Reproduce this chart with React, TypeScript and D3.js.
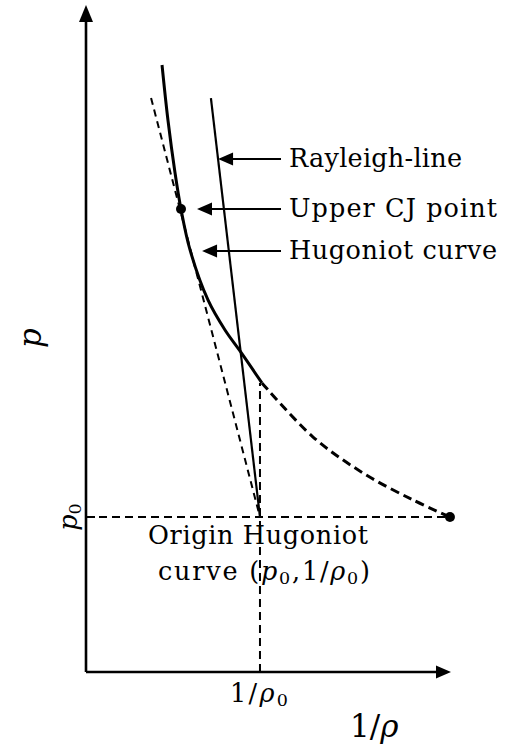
import React from "react";
import * as d3 from "d3";

// Hugoniot curve (specific volume v/v0, pressure p/p0)
const hugoniotV = [0.437, 0.471, 0.511, 0.546, 0.598, 0.701, 0.799, 0.885, 1.011, 1.305, 1.592, 1.879, 2.092];
const hugoniotP = [3.916, 3.561, 3.226, 2.987, 2.723, 2.4, 2.206, 2.071, 1.865, 1.516, 1.284, 1.11, 1.0];
// first points drawn solid, the rest dashed
const hugoniotSolidCount = 9;

// Rayleigh line and the tangent through the CJ point, both ending at (v0, p0)
const rayleighV = [0.718, 1.0];
const rayleighP = [3.703, 1.0];
const tangentV = [0.374, 1.0];
const tangentP = [3.703, 1.0];

const cjPoint = { v: 0.546, p: 2.987 };
const endPoint = { v: 2.092, p: 1.0 };
const origin = { v: 1.0, p: 1.0 };

// annotation arrows: label, arrow tip (v), height (p)
const annotationLabels = ["Rayleigh-line", "Upper CJ point", "Hugoniot curve"];
const annotationTipV = [0.759, 0.638, 0.667];
const annotationP = [3.31, 2.987, 2.716];
const annotationWidths = [173, 208, 208];

const W = 508;
const H = 748;

const x = d3.scaleLinear().domain([0, 2.098]).range([86, 451]);
const y = d3.scaleLinear().domain([0, 4.303]).range([672, 5]);

const pts = (vs: number[], ps: number[]) => vs.map((v, i) => [x(v), y(ps[i])] as [number, number]);

const curve = d3.line().curve(d3.curveCatmullRom.alpha(0.5));
const straight = d3.line();

const serif = "'DejaVu Serif', 'Liberation Serif', serif";
const FS = 25.5;
const SUB = 17.5;

function ArrowHead({ tx, ty, dir }: { tx: number; ty: number; dir: "left" | "right" | "up" }) {
  const L = 15;
  const h = 6.5;
  let d = "";
  if (dir === "left") d = `M${tx},${ty} L${tx + L},${ty - h} L${tx + L},${ty + h} Z`;
  if (dir === "right") d = `M${tx},${ty} L${tx - L},${ty - h} L${tx - L},${ty + h} Z`;
  if (dir === "up") d = `M${tx},${ty} L${tx - 7},${ty + 17} L${tx + 7},${ty + 17} Z`;
  return <path d={d} fill="#000" />;
}

export default function App() {
  const hug = pts(hugoniotV, hugoniotP);
  const hugSolid = hug.slice(0, hugoniotSolidCount);
  const hugDashed = hug.slice(hugoniotSolidCount - 1);

  const x0 = x(0);
  const y0 = y(0);
  const xEnd = x(2.098);
  const yTop = y(4.303);

  return (
    <svg width={W} height={H} style={{ position: "absolute", left: 0, top: 0, background: "#fff" }}>
      {/* reference lines through (v0, p0) */}
      <line x1={x0} y1={y(origin.p)} x2={x(endPoint.v)} y2={y(origin.p)} stroke="#000" strokeWidth={2} strokeDasharray="8,5" />
      <line x1={x(origin.v)} y1={y0} x2={x(origin.v)} y2={y(hugoniotP[hugoniotSolidCount - 1])} stroke="#000" strokeWidth={2} strokeDasharray="8,5" />

      {/* tangent line (dashed) */}
      <path d={straight(pts(tangentV, tangentP)) || ""} fill="none" stroke="#000" strokeWidth={2} strokeDasharray="7,5" />

      {/* Rayleigh line */}
      <path d={straight(pts(rayleighV, rayleighP)) || ""} fill="none" stroke="#000" strokeWidth={2.2} />

      {/* Hugoniot curve */}
      <path d={curve(hugSolid) || ""} fill="none" stroke="#000" strokeWidth={3} />
      <path d={curve(hugDashed) || ""} fill="none" stroke="#000" strokeWidth={3} strokeDasharray="9,5" />

      <circle cx={x(cjPoint.v)} cy={y(cjPoint.p)} r={5} fill="#000" />
      <circle cx={x(endPoint.v)} cy={y(endPoint.p)} r={5} fill="#000" />

      {/* axes */}
      <line x1={x0} y1={y0} x2={x0} y2={yTop + 14} stroke="#000" strokeWidth={2.6} />
      <ArrowHead tx={x0} ty={yTop} dir="up" />
      <line x1={x0} y1={y0} x2={xEnd - 12} y2={y0} stroke="#000" strokeWidth={2.6} />
      <ArrowHead tx={xEnd} ty={y0} dir="right" />
      <line x1={x0} y1={y(origin.p)} x2={x0 + 9} y2={y(origin.p)} stroke="#000" strokeWidth={2} />

      {/* annotations */}
      {annotationLabels.map((lab, i) => {
        const ty = y(annotationP[i]);
        const tx = x(annotationTipV[i]);
        return (
          <g key={lab}>
            <line x1={tx + 10} y1={ty} x2={281} y2={ty} stroke="#000" strokeWidth={2} />
            <ArrowHead tx={tx} ty={ty} dir="left" />
            <text x={289} y={ty + 8} fontFamily={serif} fontSize={FS} textLength={annotationWidths[i]}>
              {lab}
            </text>
          </g>
        );
      })}

      {/* origin label */}
      <text x={148} y={544} fontFamily={serif} fontSize={FS} textLength={220}>
        Origin Hugoniot
      </text>
      <text x={158} y={580} fontFamily={serif} fontSize={FS} textLength={212}>
        curve (<tspan fontStyle="italic">p</tspan>
        <tspan fontSize={SUB} dy={4}>0</tspan>
        <tspan dy={-4}>,1/</tspan>
        <tspan fontStyle="italic">ρ</tspan>
        <tspan fontSize={SUB} dy={4}>0</tspan>
        <tspan dy={-4}>)</tspan>
      </text>

      {/* tick labels */}
      <text x={230} y={702} fontFamily={serif} fontSize={FS} textLength={58}>
        1/<tspan fontStyle="italic">ρ</tspan>
        <tspan fontSize={SUB} dy={4}>0</tspan>
      </text>
      <text transform={`translate(77,${y(origin.p)}) rotate(-90)`} textAnchor="middle" fontFamily={serif} fontSize={FS}>
        <tspan fontStyle="italic">p</tspan>
        <tspan fontSize={SUB} dy={4}>0</tspan>
      </text>

      {/* axis titles */}
      <text x={350} y={737} fontFamily={serif} fontSize={31}>
        1/<tspan fontStyle="italic">ρ</tspan>
      </text>
      <text transform="translate(41,338) rotate(-90)" textAnchor="middle" fontFamily={serif} fontSize={31} fontStyle="italic">
        p
      </text>
    </svg>
  );
}
